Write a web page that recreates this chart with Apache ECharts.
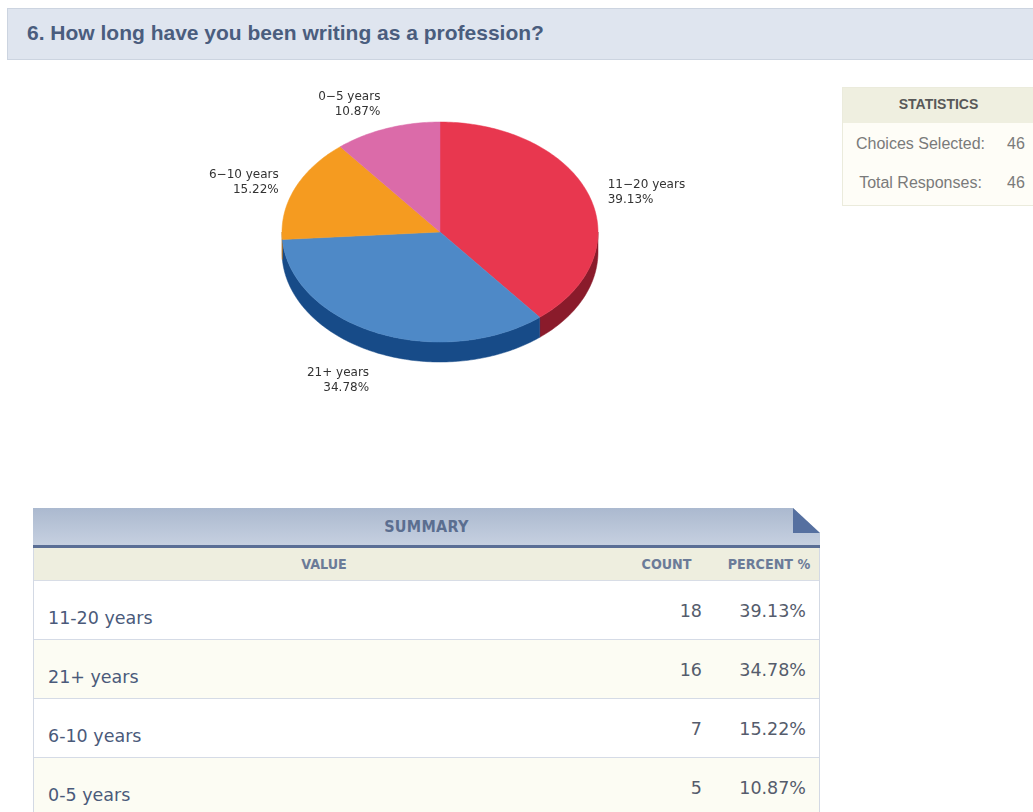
<!DOCTYPE html>
<html>
<head>
<meta charset="utf-8">
<script src="https://cdn.jsdelivr.net/npm/echarts@6/dist/echarts.min.js"></script>
<style>
  html, body { margin: 0; padding: 0; background: #ffffff; }
  body { width: 1033px; height: 812px; overflow: hidden; position: relative; }
  #question {
    position: absolute; left: 7px; top: 8px; width: 1040px; height: 50px;
    background: #dfe5ef; border: 1px solid #ccd4e0;
  }
  #question span {
    position: absolute; left: 19px; top: 12px;
    font: bold 21px "Liberation Sans", Arial, sans-serif; color: #4a5d7e;
  }
  #stats {
    position: absolute; left: 842px; top: 87px; width: 200px; height: 117px;
    border: 1px solid #ebebdc; background: #fefdf7;
    font-family: "Liberation Sans", Arial, sans-serif;
  }
  #stats .head {
    height: 35px; background: #efefe0; text-align: center; line-height: 33px;
    font-weight: bold; font-size: 14px; color: #585858; width: 191px;
  }
  #stats .row { position: absolute; left: 0; width: 200px; font-size: 16px; color: #7a7a7a; }
  #stats .row .k { position: absolute; left: 0; width: 155px; text-align: center; }
  #stats .row .v { position: absolute; left: 155px; width: 36px; text-align: center; }

  #summary { position: absolute; left: 33px; top: 508px; width: 787px; height: 304px; }
  #summary .band {
    position: absolute; left: 0; top: 0; width: 787px; height: 37px;
    background: linear-gradient(#abb9cf, #c6d0e0);
    clip-path: polygon(0 0, 760px 0, 787px 25px, 787px 100%, 0 100%);
    text-align: center;
    font: bold 16px "DejaVu Sans Condensed", "DejaVu Sans", sans-serif; font-stretch: condensed;
    line-height: 37px; color: #5b6e90; letter-spacing: 0.3px;
  }
  #summary .fold {
    position: absolute; left: 760px; top: 0; width: 27px; height: 25px;
    background: #5670a0; clip-path: polygon(0 0, 100% 100%, 0 100%);
  }
  #summary .rule { position: absolute; left: 0; top: 37px; width: 787px; height: 3px; background: #5a6e95; }
  #summary .body {
    position: absolute; left: 0; top: 40px; width: 785px; height: 270px;
    border-left: 1px solid #d3d9e4; border-right: 1px solid #d3d9e4;
  }
  #summary .colhead {
    position: absolute; left: 0; top: 0; width: 785px; height: 32px;
    background: #eeeedf; border-bottom: 1px solid #d8dde6;
    font: bold 14.2px "DejaVu Sans Condensed", "DejaVu Sans", sans-serif; font-stretch: condensed;
    line-height: 32px; color: #6b7b98;
  }
  #summary .colhead span { position: absolute; top: 0; text-align: center; }
  #summary .row {
    position: absolute; left: 0; width: 785px; height: 58px;
    border-bottom: 1px solid #d5dbe6; background: #ffffff;
    font: 17.5px "DejaVu Sans", Verdana, sans-serif;
  }
  #summary .row.alt { background: #fcfcf3; }
  #summary .row .lab { position: absolute; left: 14px; top: 26px; color: #4a5a7a; line-height: 22px; }
  #summary .row .num { position: absolute; top: 19px; text-align: right; color: #555c6c; line-height: 22px; }
  #chart { position: absolute; left: 0; top: 0; width: 1033px; height: 812px; pointer-events: none; z-index: 2; }
</style>
</head>
<body>
<div id="question"><span>6. How long have you been writing as a profession?</span></div>

<div id="stats">
  <div class="head">STATISTICS</div>
  <div class="row" style="top:47px"><span class="k" id="statLabel0"></span><span class="v" id="statValue0"></span></div>
  <div class="row" style="top:86px"><span class="k" id="statLabel1"></span><span class="v" id="statValue1"></span></div>
</div>

<div id="summary">
  <div class="band">SUMMARY</div>
  <div class="fold"></div>
  <div class="rule"></div>
  <div class="body" id="tableBody">
    <div class="colhead">
      <span id="h0" style="left:0;width:580px"></span>
      <span id="h1" style="left:580px;width:105px"></span>
      <span id="h2" style="left:685px;width:100px"></span>
    </div>
  </div>
</div>

<div id="chart"></div>

<script>
// Answer categories, in the order they appear clockwise from 12 o'clock
const categories = ['11-20 years', '21+ years', '6-10 years', '0-5 years'];
// Number of respondents per category
const counts = [18, 16, 7, 5];
// Summary table column headings
const columnHeads = ['VALUE', 'COUNT', 'PERCENT %'];
// Statistics panel
const statLabels = ['Choices Selected:', 'Total Responses:'];
const statValues = [46, 46];

// Slice colours: top face and the darker rim
const topColors = ['#e8374f', '#4e89c7', '#f59b20', '#db6ba9'];
const rimColors = ['#8a1b2b', '#174b88', '#b56c12', '#9e4a7a'];

const total = counts.reduce((a, b) => a + b, 0);
const pct = v => (v / total * 100).toFixed(2) + '%';

// ---- statistics panel ----
statLabels.forEach((t, i) => {
  document.getElementById('statLabel' + i).textContent = t;
  document.getElementById('statValue' + i).textContent = statValues[i];
});

// ---- summary table ----
columnHeads.forEach((t, i) => { document.getElementById('h' + i).textContent = t; });
const body = document.getElementById('tableBody');
categories.forEach((c, i) => {
  const row = document.createElement('div');
  row.className = 'row' + (i % 2 === 1 ? ' alt' : '');
  row.style.top = (33 + i * 59) + 'px';
  const lab = document.createElement('span');
  lab.className = 'lab'; lab.textContent = c;
  const cnt = document.createElement('span');
  cnt.className = 'num'; cnt.style.right = '117px'; cnt.textContent = counts[i];
  const pc = document.createElement('span');
  pc.className = 'num'; pc.style.right = '13px'; pc.textContent = pct(counts[i]);
  row.append(lab, cnt, pc);
  body.appendChild(row);
});

// ---- 3D-style elliptical pie ----
const chart = echarts.init(document.getElementById('chart'), null, { renderer: 'canvas' });

const CX = 440, CY = 232, RX = 158, RY = 110, DEPTH = 20;
const starts = [];
counts.reduce((acc, v, i) => { starts[i] = acc; return acc + v; }, 0);

// angle measured clockwise from 12 o'clock, in degrees
function pt(deg, dy) {
  const r = deg * Math.PI / 180;
  return [CX + RX * Math.sin(r), CY - RY * Math.cos(r) + (dy || 0)];
}
function arc(a, b, dy) {
  const pts = [];
  const n = Math.max(2, Math.ceil(Math.abs(b - a)));
  for (let k = 0; k <= n; k++) pts.push(pt(a + (b - a) * k / n, dy));
  return pts;
}
// small offsets that keep the labels clear of each other
const labelShift = [[0, 4], [0, 9], [2, 2], [0, -5]];

function renderSlice(params, api) {
  const i = params.dataIndex;
  const v = api.value(0);
  const a = starts[i] / total * 360;
  const b = (starts[i] + v) / total * 360;
  const children = [];

  // visible rim: the part of the slice on the front half of the ellipse
  const ra = Math.max(a, 90), rb = Math.min(b, 270);
  if (rb > ra) {
    const top = arc(ra, rb, 0);
    const bottom = arc(rb, ra, DEPTH);
    children.push({
      type: 'polygon', z2: 1,
      shape: { points: top.concat(bottom) },
      style: { fill: rimColors[i], stroke: rimColors[i], lineWidth: 0.5 }
    });
  }
  // top face
  children.push({
    type: 'polygon', z2: 10,
    shape: { points: [[CX, CY]].concat(arc(a, b, 0)) },
    style: { fill: topColors[i], stroke: topColors[i], lineWidth: 0.5 }
  });

  // label
  const mid = (a + b) / 2 * Math.PI / 180;
  const s = Math.sin(mid), c = Math.cos(mid);
  const lx = CX + (RX + 20) * s + labelShift[i][0];
  const ly = CY - (RY + 20) * c + (c < 0 ? DEPTH : 0) + labelShift[i][1];
  children.push({
    type: 'text', z2: 20,
    x: lx, y: ly,
    style: {
      text: categories[i].replace('-', '\u2212') + '\n' + pct(v),
      align: s > 0 ? 'left' : 'right',
      verticalAlign: 'middle',
      font: '12px "DejaVu Sans", Verdana, sans-serif',
      lineHeight: 15,
      fill: '#333333'
    }
  });
  return { type: 'group', children };
}

chart.setOption({
  animation: false,
  series: [{
    type: 'custom',
    coordinateSystem: 'none',
    renderItem: renderSlice,
    data: counts.map((v, i) => [v, i])
  }]
});
</script>
</body>
</html>
